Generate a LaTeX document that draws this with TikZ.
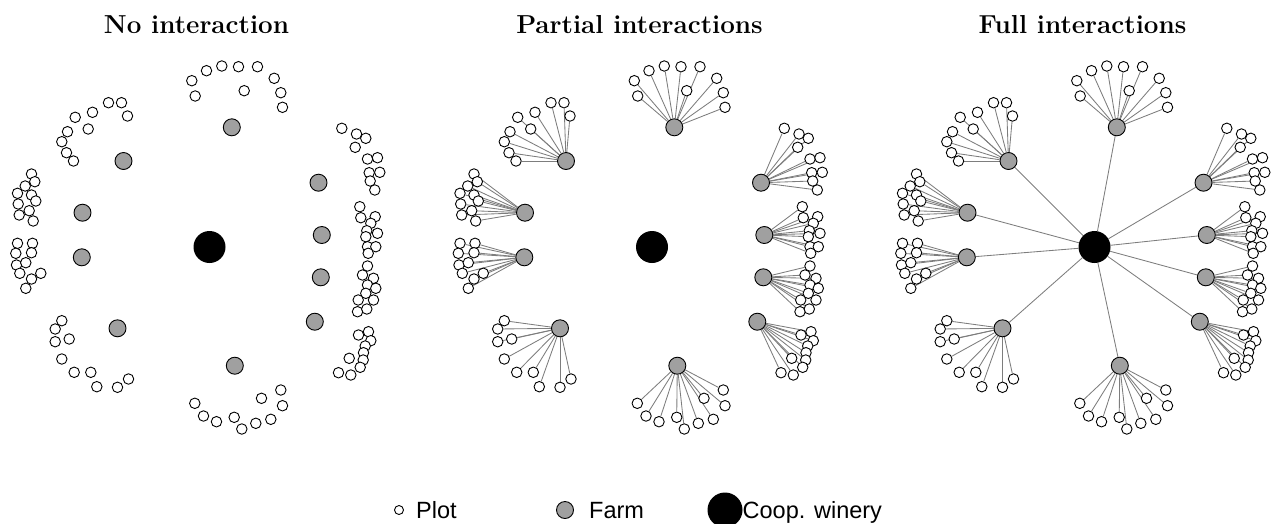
\documentclass[tikz,border=0pt]{standalone}
\usepackage{fontspec}
\newfontfamily\legendfont{Liberation Sans}
\pgfdeclarelayer{edges}
\pgfsetlayers{edges,main}
\definecolor{farmgray}{RGB}{160,160,160}
\definecolor{edgegray}{RGB}{125,125,125}
\tikzset{
 plotnode/.style={circle,draw=black,fill=white,line width=0.9pt,minimum size=10.5pt,inner sep=0pt},
 farmnode/.style={circle,draw=black,fill=farmgray,line width=0.9pt,minimum size=17pt,inner sep=0pt},
 winerynode/.style={circle,fill=black,minimum size=32pt,inner sep=0pt},
 linkline/.style={draw=edgegray,line width=0.85pt},
 paneltitle/.style={font=\fontsize{26}{30}\selectfont\bfseries,anchor=base,inner sep=0pt},
 legendtext/.style={font=\legendfont\fontsize{23.5}{27}\selectfont,anchor=base west,inner sep=0pt},
}
\def\farms{1/674.3/127.3,2/566/161,3/525/212.7,4/524.3/257.3,5/560/328.3,6/677.3/365.7,7/761/182.7,8/764.3/235,9/763.3/277.3,10/757.3/321.7}
\def\plots{%
1/649/70.7,1/664.3/66,1/681/66.7,1/700/66.7,1/716.7/78.3,1/634.3/80.7,1/637.7/96,1/686.7/90.7,1/723.3/92.7,1/725/107.3,%
2/551/102.7,2/564/102.7,2/570/116,2/535/112.3,2/517.7/117.3,2/530.7/129,2/510/131.7,2/504.3/141.7,2/509/152.7,2/516/161,%
3/474/174,3/477.3/181.7,3/467.7/186,3/460/193.3,3/474/195,3/478.3/201,3/460.7/204,3/471.7/210.7,3/461.7/215,3/475.7/221,%
4/460/243.3,4/475/243.3,4/458.3/253.3,4/474/252.7,4/459/265,4/468.3/262.7,4/462.3/273.3,4/483.3/273.3,4/474/279,4/468.3/288.3,%
5/504.3/320.7,5/497.7/329,5/497.7/341.7,5/511.7/339,5/504.3/359,5/516.7/372.3,5/533.3/372.3,5/539.3/386.7,5/560/387.3,5/571/379,%
6/637.3/403.3,6/646/416,6/659/421.7,6/676.7/417.3,6/684.3/429,6/698.3/423.3,6/713.3/419.3,6/704/398.3,6/723.3/390,6/725/405.7,%
7/784.3/128.3,7/799/134,7/808.3/138.3,7/797.7/147.3,7/810/159,7/820/157.7,7/811.7/172.7,7/822.3/172.3,7/812.7/181,7/817.3/190,%
8/802.3/206.7,8/803.3/217.7,8/817.7/216.7,8/813.3/223.3,8/809.3/230.7,8/820/233.3,8/808.3/236.7,8/810/246.7,8/818.3/246.7,8/810.7/253.3,%
9/810/266,9/805/275,9/816/278.3,9/810/285,9/818.3/288.3,9/808.3/293.3,9/800.7/300,9/816/300,9/800/311.7,9/809.3/309,%
10/801/335,10/811/331.7,10/813.3/340.7,10/807.7/346,10/806/352.7,10/791.7/358.3,10/805.7/360,10/802.7/367.3,10/781/372.7,10/793.3/375}
\newcommand\drawpanel[3]{%
 \begin{scope}[xshift=#2pt]
  \node[winerynode] (#1w) at (652,247) {};
  \foreach \i/\x/\y in \farms {
   \node[farmnode] (#1f\i) at (\x,\y) {};
   \ifnum#3=2 \begin{pgfonlayer}{edges}\draw[linkline] (#1f\i) -- (#1w);\end{pgfonlayer}\fi
  }
  \foreach \f/\x/\y [count=\k] in \plots {
   \node[plotnode] (#1p\k) at (\x,\y) {};
   \ifnum#3>0 \begin{pgfonlayer}{edges}\draw[linkline] (#1p\k) -- (#1f\f);\end{pgfonlayer}\fi
  }
 \end{scope}}
\begin{document}
\begin{tikzpicture}[x=1pt,y=-1pt]
\useasboundingbox (0,0) rectangle (1271,523);
\drawpanel{a}{-442.5}{0}
\drawpanel{b}{0}{1}
\drawpanel{c}{442.5}{2}
\node[paneltitle] (t1) at (196.5,33.3) {No interaction};
\node[paneltitle] (t2) at (639.5,33.3) {Partial interactions};
\node[paneltitle] (t3) at (1082.5,33.3) {Full interactions};
% legend
\node[plotnode,minimum size=9pt] (lp) at (399,510) {};
\node[legendtext] (lpt) at (416,518) {Plot};
\node[farmnode] (lf) at (565,510) {};
\node[legendtext] (lft) at (589,518) {Farm};
\node[winerynode,minimum size=35pt] (lw) at (725,510) {};
\node[legendtext] (lwt) at (742.5,518) {Coop. winery};
\end{tikzpicture}
\end{document}
